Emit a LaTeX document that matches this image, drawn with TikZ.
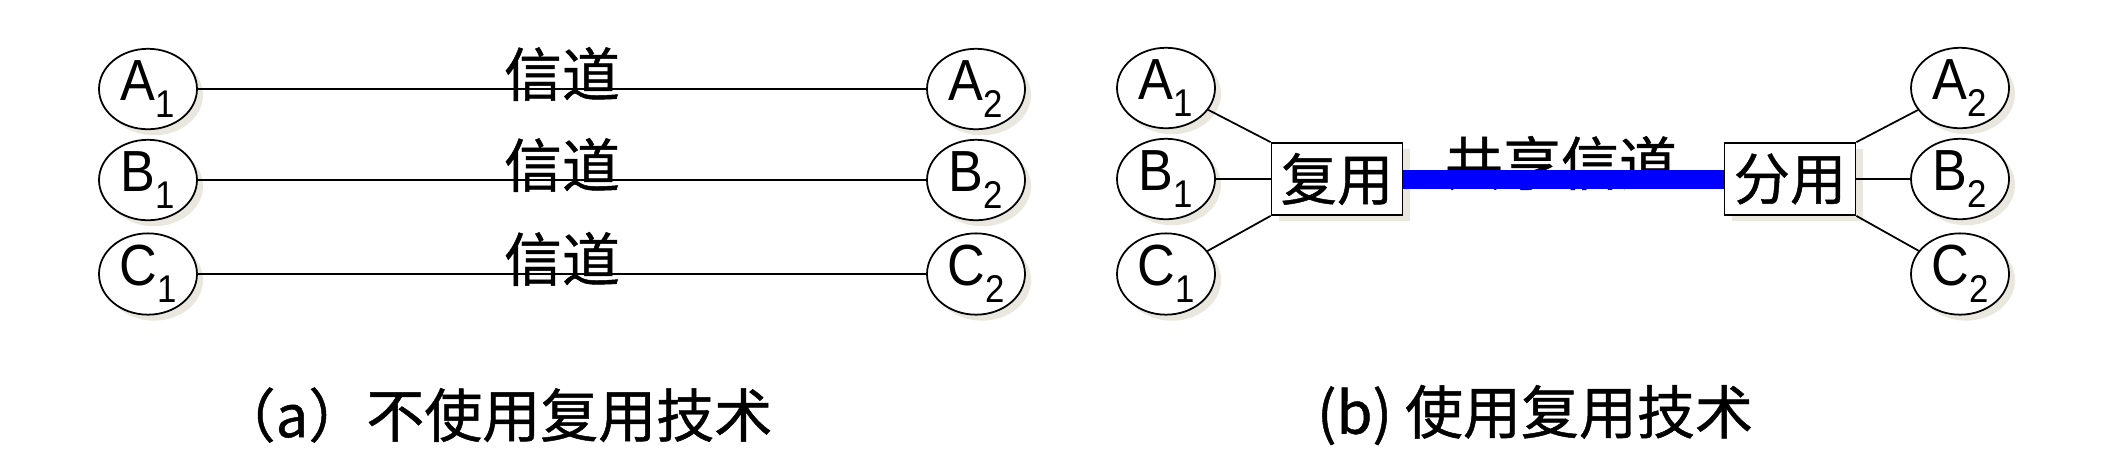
\documentclass[tikz,border=0pt]{standalone}
\usepackage{fontspec}
\setmainfont{Liberation Sans}
\newfontfamily\cjk[FakeBold=0.8]{Noto Sans CJK SC}
\newfontfamily\narrow[FakeStretch=0.9]{Liberation Sans}
\usetikzlibrary{shapes.geometric,shadows}
\definecolor{shadowtan}{RGB}{234,231,222}
\newcommand{\stn}[2]{{\narrow\fontsize{16.5}{16.5}\selectfont #1\raisebox{-0.17cm}{\fontsize{11}{11}\selectfont #2}}}
\tikzset{
  station/.style={draw, ellipse, fill=white, line width=0.5pt, minimum width=0.98cm, minimum height=0.67cm, inner sep=0pt,
    drop shadow={shadow xshift=0.06cm, shadow yshift=-0.06cm, fill=shadowtan, opacity=1}},
  muxbox/.style={draw, rectangle, fill=white, line width=0.5pt, minimum width=1.31cm, minimum height=0.72cm, inner sep=0pt,
    font=\cjk\fontsize{16}{16}\selectfont,
    drop shadow={shadow xshift=0.07cm, shadow yshift=-0.06cm, fill=shadowtan, opacity=1}},
  chan/.style={font=\cjk\fontsize{16.5}{16.5}\selectfont, inner sep=0pt},
  capt/.style={font=\cjk\fontsize{16.5}{16.5}\selectfont, inner sep=0pt}
}
\begin{document}
\begin{tikzpicture}[line width=0.5pt]
\useasboundingbox (0,0) rectangle (21.08,-4.52);
% (a) no multiplexing
\node[station] (a1) at (1.48,-0.89) {\stn{A}{1}};
\node[station] (b1) at (1.48,-1.80) {\stn{B}{1}};
\node[station] (c1) at (1.48,-2.74) {\stn{C}{1}};
\node[station] (a2) at (9.76,-0.89) {\stn{A}{2}};
\node[station] (b2) at (9.76,-1.80) {\stn{B}{2}};
\node[station] (c2) at (9.76,-2.74) {\stn{C}{2}};
\draw (a1) -- node[chan, yshift=0.15cm] (cha) {信道} (a2);
\draw (b1) -- node[chan, yshift=0.15cm] (chb) {信道} (b2);
\draw (c1) -- node[chan, yshift=0.15cm] (chc) {信道} (c2);
% (b) multiplexing
\node[station] (ma) at (11.66,-0.88) {\stn{A}{1}};
\node[station] (mb) at (11.66,-1.79) {\stn{B}{1}};
\node[station] (mc) at (11.66,-2.74) {\stn{C}{1}};
\node[muxbox] (mux) at (13.37,-1.79) {复用};
\node[muxbox] (demux) at (17.90,-1.79) {分用};
\node[station] (da) at (19.60,-0.88) {\stn{A}{2}};
\node[station] (db) at (19.60,-1.79) {\stn{B}{2}};
\node[station] (dc) at (19.60,-2.74) {\stn{C}{2}};
\node[chan] (share) at (15.61,-1.63) {共享信道};
\draw[blue, line width=0.19cm] (mux.east) -- (demux.west);
\draw (ma) -- (mux.north west);
\draw (mb) -- (mux.west);
\draw (mc) -- (mux.south west);
\draw (demux.north east) -- (da);
\draw (demux.east) -- (db);
\draw (demux.south east) -- (dc);
% captions
\node[capt] (capa) at (4.95,-4.15) {（a）不使用复用技术};
\node[capt] (capb) at (15.35,-4.15) {(b) 使用复用技术};
\end{tikzpicture}
\end{document}
